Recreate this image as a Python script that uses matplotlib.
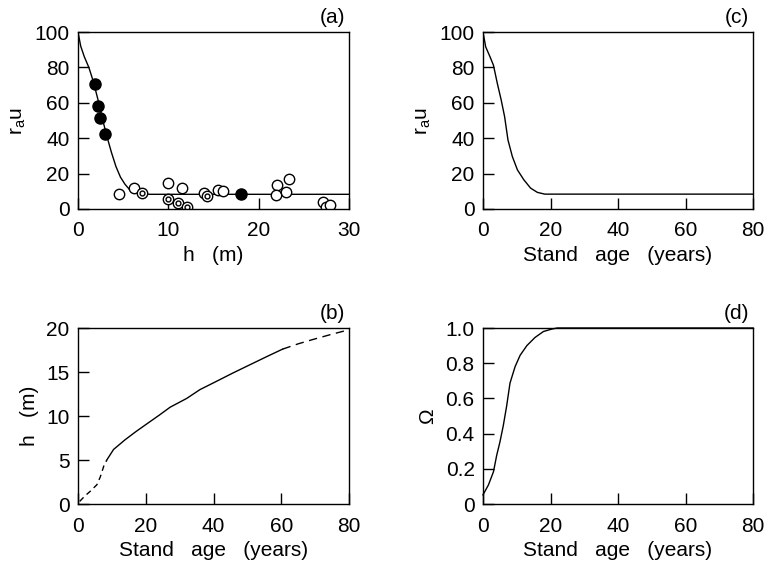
import numpy as np
import matplotlib
matplotlib.use('Agg')
import matplotlib.pyplot as plt
from matplotlib.ticker import FuncFormatter

plt.rcParams['font.family'] = ['Liberation Sans', 'DejaVu Sans']
plt.rcParams['font.size'] = 15

# (a) r_a u vs canopy height
h_fit = [0, 0.3, 0.7, 1.2, 1.7, 2.2, 2.7, 3.2, 3.7, 4.2, 4.7, 5.2, 5.7, 6.2, 7, 8, 30]
ra_fit = [100, 92, 86, 80, 72, 62, 51, 41, 32, 24, 18, 14, 11, 9.5, 8.6, 8.3, 8.3]
h_filled = [1.84, 2.21, 2.47, 2.95, 18.06]
ra_filled = [70.4, 58.3, 51.2, 42.4, 8.4]
h_open = [4.5, 6.15, 10.0, 11.55, 14.0, 15.55, 16.0, 22.0, 23.4, 21.9, 23.0, 27.1, 27.5, 27.9]
ra_open = [8.6, 11.9, 14.6, 11.8, 9.0, 10.9, 10.3, 13.7, 17.1, 8.1, 9.6, 3.9, 1.2, 2.0]
h_ring = [7.03, 10.0, 11.03, 12.08, 14.3]
ra_ring = [9.3, 5.9, 3.4, 1.2, 7.4]

# (b) height vs stand age
age_b1 = [0.5, 2.0, 3.6, 5.6, 6.6, 7.6, 8.5]
h_b1 = [0.3, 0.9, 1.44, 2.2, 3.1, 4.3, 5.0]
age_b2 = [8.5, 10.5, 13.9, 17, 20.3, 24, 27.2, 32.1, 36, 39.9, 45.8, 51.7, 56, 60.4]
h_b2 = [5.0, 6.2, 7.3, 8.2, 9.1, 10.1, 11.0, 12.0, 13.0, 13.75, 14.9, 16.0, 16.8, 17.6]
age_b3 = [60.4, 65, 69.4, 75, 80]
h_b3 = [17.6, 18.2, 18.7, 19.3, 19.8]

# (c) r_a u vs stand age
age_c = [0, 0.8, 2.1, 3.1, 4.25, 5.4, 6.4, 7.4, 8.7, 10.2, 12.1, 14.1, 16.1, 18.3, 80]
ra_c = [100, 91.6, 85.9, 81.2, 70.9, 61.5, 52.2, 39, 29.6, 22.1, 16.5, 11.8, 9.4, 8.4, 8.4]

# (d) Omega vs stand age
age_d = [0, 1.6, 3.1, 4.05, 5.0, 6.0, 7.0, 8.0, 9.5, 11.0, 13.0, 15.4, 17.9, 20.4, 22, 80]
om_d = [0.052, 0.108, 0.183, 0.276, 0.351, 0.444, 0.556, 0.687, 0.78, 0.845, 0.90, 0.946, 0.98, 0.994, 1.0, 1.0]

fig = plt.figure(figsize=(7.68, 5.67), dpi=100)
W, H = 768, 567
def box(l, t, r, b):
    return [l / W, 1 - b / H, (r - l) / W, (b - t) / H]

axa = fig.add_axes(box(78, 32, 349, 209))
axc = fig.add_axes(box(483, 32, 753, 209))
axb = fig.add_axes(box(78, 328, 349, 504))
axd = fig.add_axes(box(483, 328, 753, 504))

def style(ax):
    ax.tick_params(direction='in', length=8, width=1, top=False, right=False, labelsize=15)
    ax.tick_params(axis='x', pad=9)
    ax.tick_params(axis='y', pad=6)
    for s in ax.spines.values():
        s.set_linewidth(1)

# (a)
axa.plot(h_fit, ra_fit, color='black', lw=1)
axa.plot(h_open, ra_open, 'o', ms=7.5, mfc='white', mec='black', mew=1)
axa.plot(h_ring, ra_ring, 'o', ms=7.5, mfc='white', mec='black', mew=1)
axa.plot(h_ring, ra_ring, 'o', ms=3.5, mfc='white', mec='black', mew=1)
axa.plot(h_filled, ra_filled, 'o', ms=8, color='black')
axa.set_xlim(0, 30)
axa.set_ylim(0, 100)
axa.set_xticks([0, 10, 20, 30])
axa.set_yticks([0, 20, 40, 60, 80, 100])
axa.set_xlabel('h   (m)', labelpad=4)
axa.set_ylabel(r'r$_\mathregular{a}$u', labelpad=5)
axa.text(0.985, 1.03, '(a)', transform=axa.transAxes, ha='right', va='bottom')

# (c)
axc.plot(age_c, ra_c, color='black', lw=1)
axc.set_xlim(0, 80)
axc.set_ylim(0, 100)
axc.set_xticks([0, 20, 40, 60, 80])
axc.set_yticks([0, 20, 40, 60, 80, 100])
axc.set_xlabel('Stand   age   (years)', labelpad=4)
axc.set_ylabel(r'r$_\mathregular{a}$u', labelpad=5)
axc.text(0.985, 1.03, '(c)', transform=axc.transAxes, ha='right', va='bottom')

# (b)
axb.plot(age_b1, h_b1, color='black', lw=1, dashes=(4, 3))
axb.plot(age_b2, h_b2, color='black', lw=1)
axb.plot(age_b3, h_b3, color='black', lw=1, dashes=(6, 4))
axb.set_xlim(0, 80)
axb.set_ylim(0, 20)
axb.set_xticks([0, 20, 40, 60, 80])
axb.set_yticks([0, 5, 10, 15, 20])
axb.set_xlabel('Stand   age   (years)', labelpad=4)
axb.set_ylabel('h   (m)', labelpad=5)
axb.text(0.985, 1.03, '(b)', transform=axb.transAxes, ha='right', va='bottom')

# (d)
axd.plot(age_d, om_d, color='black', lw=1, clip_on=False)
axd.set_xlim(0, 80)
axd.set_ylim(0, 1.0)
axd.set_xticks([0, 20, 40, 60, 80])
axd.set_yticks([0, 0.2, 0.4, 0.6, 0.8, 1.0])
axd.yaxis.set_major_formatter(FuncFormatter(lambda v, p: '0' if v == 0 else '%.1f' % v))
axd.set_xlabel('Stand   age   (years)', labelpad=4)
axd.set_ylabel('Ω', labelpad=6)
axd.text(0.985, 1.03, '(d)', transform=axd.transAxes, ha='right', va='bottom')

for ax in (axa, axb, axc, axd):
    style(ax)

fig.savefig('out.png', dpi=100)
